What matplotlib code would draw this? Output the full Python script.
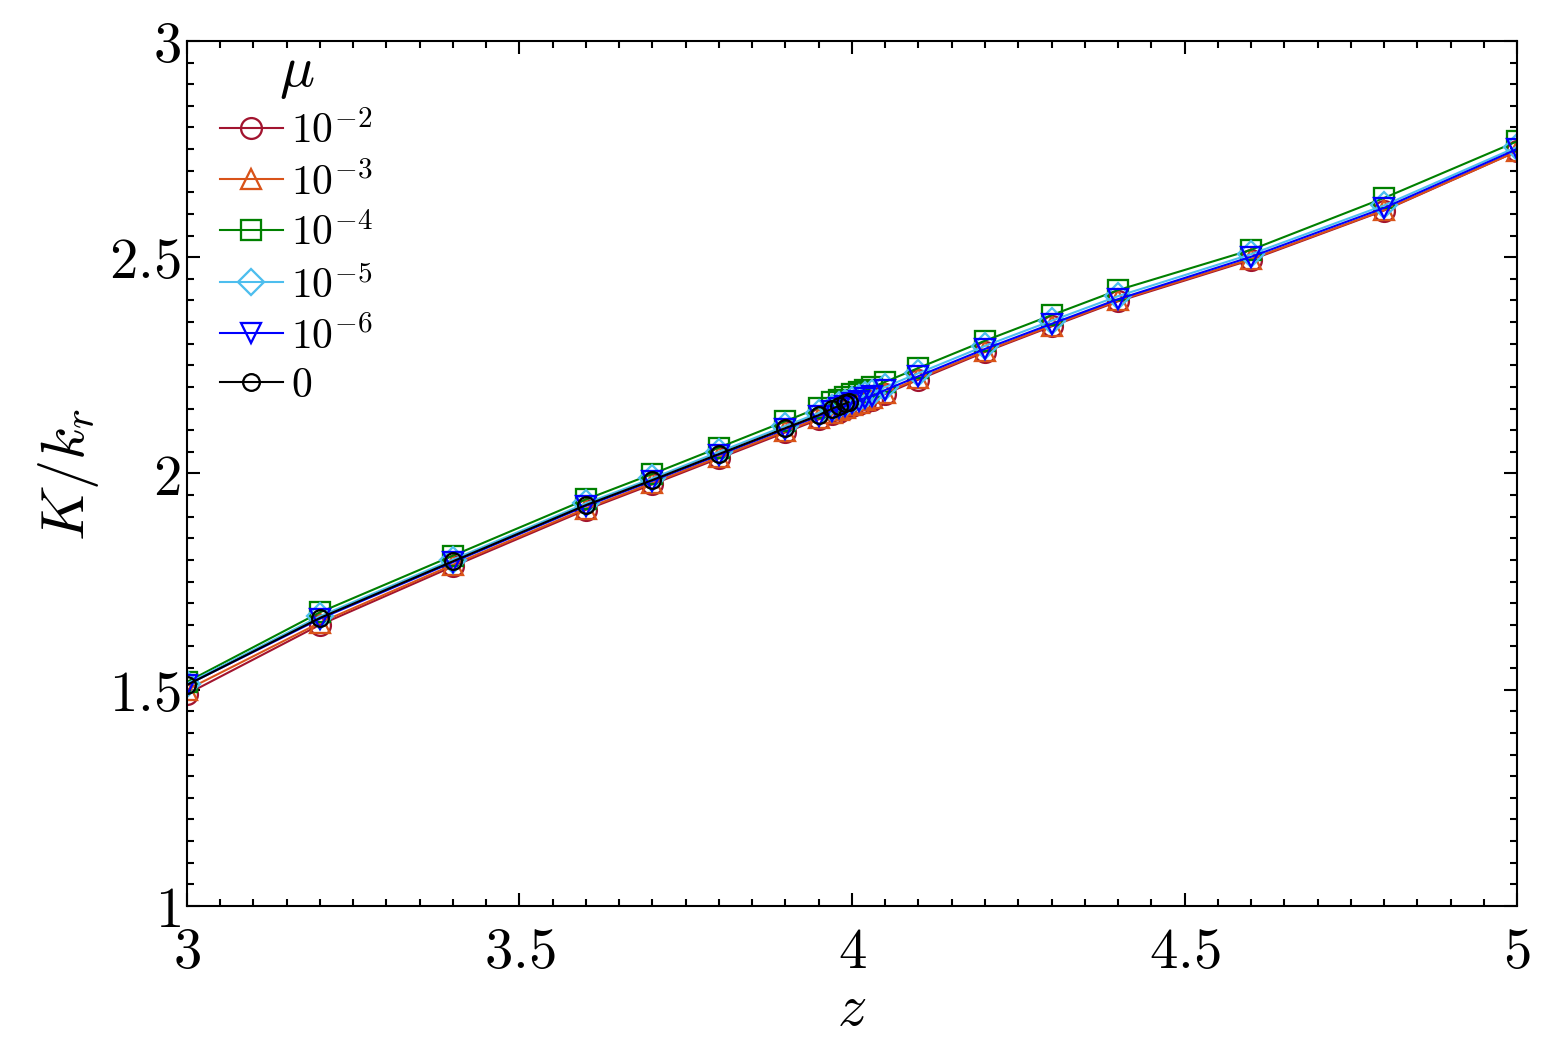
import numpy as np
import matplotlib
matplotlib.use("Agg")
import matplotlib.pyplot as plt
from matplotlib.ticker import MultipleLocator, FuncFormatter

plt.rcParams['mathtext.fontset'] = 'cm'
plt.rcParams['font.family'] = 'serif'
plt.rcParams['font.serif'] = ['cmr10', 'DejaVu Serif']
plt.rcParams['axes.formatter.use_mathtext'] = True

# data
z = [3.0, 3.2, 3.4, 3.6, 3.7, 3.8, 3.9, 3.95, 3.97, 3.98, 3.99, 4.0,
     4.01, 4.02, 4.03, 4.05, 4.1, 4.2, 4.3, 4.4, 4.6, 4.8, 5.0]
K_m2 = [1.490, 1.650, 1.785, 1.916, 1.975, 2.035, 2.095, 2.125, 2.137, 2.143, 2.149, 2.155,
        2.160, 2.166, 2.171, 2.184, 2.217, 2.281, 2.340, 2.398, 2.494, 2.608, 2.745]
K_m3 = [1.500, 1.655, 1.789, 1.919, 1.978, 2.038, 2.098, 2.128, 2.140, 2.146, 2.152, 2.158,
        2.163, 2.169, 2.174, 2.187, 2.220, 2.283, 2.342, 2.400, 2.496, 2.609, 2.745]
K_m4 = [1.518, 1.679, 1.810, 1.940, 1.999, 2.060, 2.121, 2.152, 2.165, 2.171, 2.177, 2.183,
        2.188, 2.194, 2.199, 2.212, 2.244, 2.307, 2.366, 2.424, 2.517, 2.637, 2.768]
K_m5 = [1.514, 1.670, 1.801, 1.931, 1.989, 2.050, 2.110, 2.140, 2.152, 2.158, 2.163, 2.170,
        2.175, 2.182, 2.186, 2.200, 2.232, 2.295, 2.353, 2.410, 2.507, 2.620, 2.755]
K_m6 = [1.511, 1.664, 1.795, 1.925, 1.983, 2.043, 2.103, 2.133, 2.145, 2.151, 2.156, 2.163,
        2.168, 2.175, 2.179, 2.193, 2.225, 2.288, 2.346, 2.403, 2.501, 2.614, 2.750]
z0 = [3.0, 3.2, 3.4, 3.6, 3.7, 3.8, 3.9, 3.95, 3.97, 3.98, 3.99, 3.995]
K_0 = [1.511, 1.666, 1.797, 1.927, 1.985, 2.045, 2.105, 2.135, 2.150, 2.156, 2.162, 2.165]

labels = [r'$10^{-2}$', r'$10^{-3}$', r'$10^{-4}$', r'$10^{-5}$', r'$10^{-6}$', r'$0$']
colors = ['#a2142f', '#d95319', 'green', '#4dbeee', 'blue', 'black']
markers = ['o', '^', 's', 'D', 'v', 'o']

fig = plt.figure(figsize=(5.21, 3.4733), dpi=300)
ax = fig.add_axes([0.1196, 0.1296, 0.851, 0.8301])

series = [(z, K_m2), (z, K_m3), (z, K_m4), (z, K_m5), (z, K_m6), (z0, K_0)]
for i, (x, y) in enumerate(series):
    ms = 5.0
    if markers[i] == 'D':
        ms = 4.3
    if i == 5:
        ms = 4.0
    ax.plot(x, y, color=colors[i], marker=markers[i], ms=ms, mfc='none',
            mew=0.55, lw=0.5, label=labels[i])

ax.set_xlim(3, 5)
ax.set_ylim(1, 3)
ax.xaxis.set_major_locator(MultipleLocator(0.5))
ax.xaxis.set_minor_locator(MultipleLocator(0.05))
ax.yaxis.set_major_locator(MultipleLocator(0.5))
ax.yaxis.set_minor_locator(MultipleLocator(0.05))
fmt = FuncFormatter(lambda v, p: r'$%g$' % v)
ax.xaxis.set_major_formatter(fmt)
ax.yaxis.set_major_formatter(fmt)
ax.tick_params(which='both', direction='in', top=True, right=True, width=0.5, labelsize=13.6)
ax.tick_params(which='major', length=3.2)
ax.tick_params(which='minor', length=1.6)
ax.tick_params(axis='x', pad=5)
ax.tick_params(axis='y', pad=1.5)
for s in ax.spines.values():
    s.set_linewidth(0.5)

ax.set_xlabel(r'$z$', fontsize=14, labelpad=1.5)
ax.set_ylabel(r'$K/k_r$', fontsize=14.5, labelpad=2)

leg = ax.legend(title=r'$\mu$', loc='upper left', frameon=False, fontsize=10,
                title_fontsize=14, handlelength=1.5, handletextpad=0.2,
                labelspacing=0.26, borderaxespad=0.0, borderpad=0.0,
                bbox_to_anchor=(0.025, 0.996))

fig.savefig('out.png', dpi=300)
